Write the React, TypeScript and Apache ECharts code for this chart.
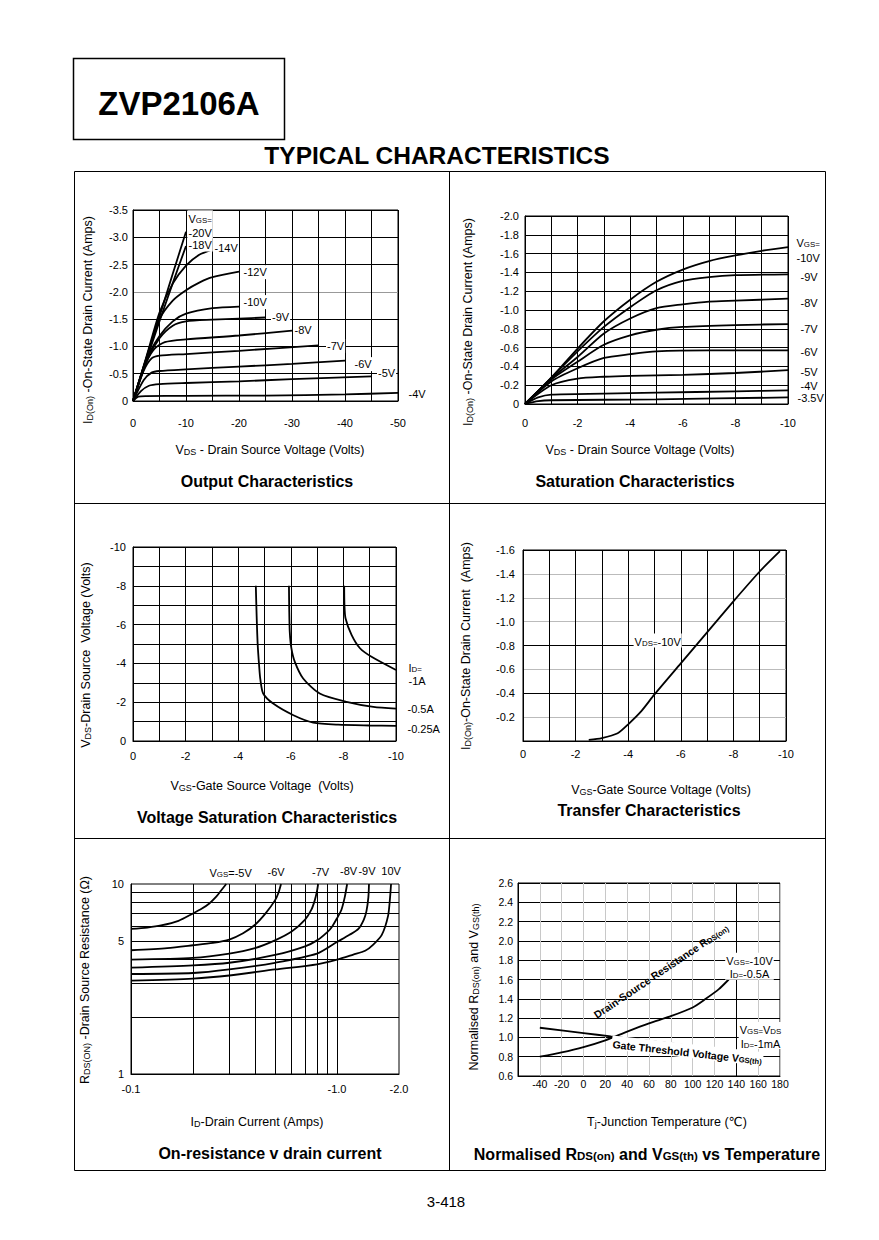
import React, { useEffect, useRef } from 'react';
import * as echarts from 'echarts';

const FONT = "'Liberation Sans', Arial, Helvetica, 'DejaVu Sans', sans-serif";

// ---------- Chart 1: Output Characteristics  [VDS (V), ID (A)] ----------
const out20V = [[0, 0], [-2.5, -0.78], [-5, -1.55], [-7.5, -2.33], [-10, -3.1]];
const out18V = [[0, 0], [-2.5, -0.74], [-5, -1.46], [-7.5, -2.16], [-10, -2.84]];
const out14V = [[0, 0], [-2.5, -0.8], [-5, -1.62], [-7.5, -2.15], [-10, -2.48], [-12.5, -2.68], [-15, -2.78]];
const out12V = [[0, 0], [-2.5, -0.78], [-5, -1.5], [-7.5, -1.84], [-10, -2.03], [-12.5, -2.17], [-15, -2.27], [-20, -2.37]];
const out10V = [[0, 0], [-2.5, -0.75], [-5, -1.19], [-7.5, -1.46], [-10, -1.6], [-15, -1.7], [-20, -1.73]];
const out9V = [[0, 0], [-2.5, -0.72], [-5, -1.15], [-7.5, -1.38], [-10, -1.46], [-15, -1.49], [-20, -1.51], [-25, -1.53]];
const out8V = [[0, 0], [-2.5, -0.7], [-4, -0.95], [-6, -1.08], [-10, -1.13], [-20, -1.2], [-30, -1.29]];
const out7V = [[0, 0], [-2, -0.55], [-3.5, -0.78], [-5, -0.83], [-10, -0.86], [-20, -0.92], [-35, -1.02]];
const out6V = [[0, 0], [-2, -0.38], [-3.5, -0.52], [-5, -0.55], [-10, -0.58], [-20, -0.63], [-30, -0.68], [-40, -0.74]];
const out5V = [[0, 0], [-1.5, -0.18], [-3, -0.28], [-5, -0.31], [-10, -0.33], [-20, -0.36], [-30, -0.4], [-45, -0.45]];
const out4V = [[0, 0], [-1, -0.08], [-2.5, -0.09], [-10, -0.095], [-25, -0.1], [-40, -0.12], [-50, -0.15]];
const outLabels = ['-20V', '-18V', '-14V', '-12V', '-10V', '-9V', '-8V', '-7V', '-6V', '-5V', '-4V'];

// ---------- Chart 2: Saturation Characteristics [VDS (V), ID (A)] ----------
const sat10V = [[0, 0], [-1, -0.28], [-2, -0.59], [-3, -0.88], [-4, -1.11], [-5, -1.3], [-6, -1.43], [-7, -1.52], [-8, -1.58], [-9, -1.63], [-10, -1.67]];
const sat9V = [[0, 0], [-1, -0.28], [-2, -0.56], [-3, -0.82], [-4, -1.03], [-5, -1.21], [-6, -1.31], [-7, -1.35], [-8, -1.37], [-10, -1.38]];
const sat8V = [[0, 0], [-1, -0.27], [-2, -0.5], [-3, -0.75], [-4, -0.91], [-5, -1.02], [-6, -1.06], [-7, -1.09], [-8, -1.1], [-10, -1.12]];
const sat7V = [[0, 0], [-1, -0.26], [-2, -0.45], [-3, -0.63], [-4, -0.73], [-5, -0.79], [-6, -0.82], [-8, -0.84], [-10, -0.85]];
const sat6V = [[0, 0], [-1, -0.24], [-2, -0.38], [-3, -0.49], [-4, -0.53], [-5, -0.56], [-7, -0.57], [-10, -0.57]];
const sat5V = [[0, 0], [-1, -0.2], [-2, -0.27], [-3, -0.29], [-4, -0.3], [-6, -0.31], [-8, -0.33], [-10, -0.36]];
const sat4V = [[0, 0], [-0.5, -0.07], [-1, -0.1], [-3, -0.11], [-5, -0.12], [-8, -0.135], [-10, -0.145]];
const sat35V = [[0, 0], [-0.5, -0.03], [-1, -0.04], [-5, -0.05], [-10, -0.07]];
const satLabels = ['-10V', '-9V', '-8V', '-7V', '-6V', '-5V', '-4V', '-3.5V'];

// ---------- Chart 3: Voltage Saturation [VGS (V), VDS (V)] ----------
const vsat1A = [[-8.03, -8], [-8.04, -7], [-8.08, -6.33], [-8.31, -5.47], [-8.63, -4.78], [-9.07, -4.34], [-10, -3.66]];
const vsat05A = [[-5.93, -8], [-5.94, -6.8], [-5.96, -5.64], [-6.02, -4.8], [-6.15, -4.09], [-6.47, -3.22], [-7.1, -2.45], [-8.12, -2.02], [-9.14, -1.76], [-10, -1.67]];
const vsat025A = [[-4.67, -8], [-4.7, -6.5], [-4.74, -5], [-4.8, -3.8], [-4.84, -3.2], [-4.95, -2.45], [-5.33, -1.93], [-6.1, -1.33], [-6.85, -0.95], [-7.8, -0.84], [-9, -0.8], [-10, -0.78]];

// ---------- Chart 4: Transfer Characteristics [VGS (V), ID (A)] ----------
const transfer = [[-2.5, -0.01], [-3, -0.025], [-3.6, -0.065], [-4, -0.14], [-4.5, -0.25], [-5, -0.39], [-6, -0.65], [-7, -0.91], [-8, -1.17], [-9, -1.42], [-9.77, -1.59]];

// ---------- Chart 5: On-resistance v drain current [ID (A), RDS (ohm)] ----------
const ron5V = [[-0.1, 5.8], [-0.12, 5.9], [-0.14, 6.05], [-0.17, 6.4], [-0.2, 7.0], [-0.22, 7.4], [-0.24, 7.9], [-0.26, 8.6], [-0.275, 9.3], [-0.29, 10]];
const ron6V = [[-0.1, 4.48], [-0.15, 4.6], [-0.2, 4.76], [-0.25, 4.9], [-0.3, 5.1], [-0.35, 5.5], [-0.4, 6.1], [-0.45, 7.0], [-0.5, 8.2], [-0.52, 9], [-0.535, 10]];
const ron7V = [[-0.1, 4.0], [-0.2, 4.08], [-0.3, 4.3], [-0.4, 4.6], [-0.5, 5.05], [-0.6, 5.6], [-0.7, 6.5], [-0.75, 7.3], [-0.78, 8.2], [-0.8, 9.2], [-0.81, 10]];
const ron8V = [[-0.1, 3.63], [-0.2, 3.73], [-0.3, 3.85], [-0.5, 4.23], [-0.7, 4.7], [-0.8, 5.05], [-0.9, 5.6], [-0.95, 6.0], [-1.0, 6.6], [-1.05, 7.3], [-1.09, 8.5], [-1.12, 10]];
const ron9V = [[-0.1, 3.36], [-0.2, 3.4], [-0.3, 3.55], [-0.5, 3.85], [-0.8, 4.3], [-1.0, 4.95], [-1.15, 5.4], [-1.27, 5.8], [-1.35, 6.5], [-1.39, 7.2], [-1.42, 8.5], [-1.43, 10]];
const ron10V = [[-0.1, 3.1], [-0.2, 3.18], [-0.3, 3.3], [-0.5, 3.55], [-0.8, 3.78], [-1.0, 4.0], [-1.2, 4.25], [-1.37, 4.45], [-1.5, 4.8], [-1.65, 5.4], [-1.77, 6.8], [-1.81, 8.5], [-1.83, 10]];
const ronLabels = ['{n|V}{s|GS}{n|=-5V}', '-6V', '-7V', '-8V', '-9V', '10V'];
const ronXGrid = [0.2, 0.3, 0.4, 0.5, 0.6, 0.7, 0.8, 0.9, 1.0];
const ronYGrid = [2, 3, 4, 5, 6, 7, 8, 9];

// ---------- Chart 6: Normalised vs temperature [Tj (C), ratio] ----------
const rdsNorm = [[-40, 0.8], [-20, 0.845], [0, 0.9], [20, 0.97], [40, 1.06], [60, 1.145], [80, 1.22], [100, 1.31], [112, 1.4], [124, 1.5], [133, 1.6]];
const vthNorm = [[-40, 1.1], [0, 1.045], [25, 1.01], [60, 0.965], [100, 0.91], [160, 0.83]];
const tempTicks = [-40, -20, 0, 20, 40, 60, 80, 100, 120, 140, 160, 180];

function rich(size: number, weight: string = 'normal') {
  const sub = Math.round(size * 0.72 * 10) / 10;
  return {
    n: { fontSize: size, fontFamily: FONT, fontWeight: weight, color: '#000', fill: '#000', verticalAlign: 'bottom' },
    s: { fontSize: sub, fontFamily: FONT, fontWeight: weight, color: '#000', fill: '#000', verticalAlign: 'bottom' },
  };
}

function gtext(x: number, y: number, text: string, size: number, opts: any = {}) {
  return {
    type: 'text', x, y, rotation: opts.rot || 0, silent: true, z: 10,
    style: {
      text, fontSize: size, fontFamily: FONT, fontWeight: opts.weight || 'normal', fill: '#000',
      align: opts.align || 'center', verticalAlign: 'middle', rich: rich(size, opts.weight || 'normal'),
    },
  };
}

function tag(coord: number[], text: string, dx: number, dy: number, opts: any = {}) {
  const size = opts.size || 11;
  return {
    coord, symbol: 'rect', symbolSize: 1, itemStyle: { color: 'rgba(0,0,0,0)' },
    label: {
      show: true, formatter: text, position: [dx, dy], align: opts.align || 'left', verticalAlign: opts.va || 'middle',
      color: '#000', fontSize: size, fontFamily: FONT, fontWeight: opts.weight || 'normal',
      backgroundColor: opts.bg === false ? 'transparent' : '#fff', padding: opts.pad || [0, 1],
      lineHeight: opts.lh || Math.round(size * 1.3), rotate: opts.rotate || 0, rich: rich(size, opts.weight || 'normal'),
    },
  };
}

function curve(idx: number, data: number[][], marks: any[] = [], extra: any = {}) {
  return {
    type: 'line', xAxisIndex: idx, yAxisIndex: idx, data, symbol: 'none', showSymbol: false,
    smooth: extra.smooth ?? 0.25, silent: true, clip: false,
    lineStyle: { color: '#000', width: 1.8 },
    markPoint: marks.length ? { silent: true, data: marks } : undefined,
    markLine: extra.markLine,
    z: 3,
  };
}

function valAxis(idx: number, min: number, max: number, interval: number, fmt: (v: number) => string, margin: number, size: number, extra: any = {}) {
  return {
    type: 'value', gridIndex: idx, min, max, interval, inverse: extra.inverse ?? false,
    axisLine: { show: true, onZero: false, lineStyle: { color: '#000', width: 1 } },
    axisTick: { show: false },
    splitLine: { show: true, lineStyle: { color: extra.splitColor || '#000', width: 1 } },
    axisLabel: { color: '#000', fontSize: size, fontFamily: FONT, margin, formatter: fmt, showMinLabel: true, showMaxLabel: true },
  };
}

function buildOption() {
  const grids = [
    { left: 133, top: 210, width: 265, height: 191 },
    { left: 525, top: 216, width: 263, height: 188 },
    { left: 133, top: 547, width: 263, height: 194 },
    { left: 523, top: 550, width: 263, height: 191 },
    { left: 131, top: 884, width: 268, height: 190 },
    { left: 518, top: 883, width: 262, height: 193 },
  ].map((g) => ({ ...g, show: true, borderColor: '#000', borderWidth: 1, containLabel: false }));

  const f1 = (v: number) => (v === 0 ? '0' : v.toFixed(1));
  const xAxis: any[] = [
    valAxis(0, -50, 0, 5, (v) => (v % 10 === 0 ? String(v) : ''), 16, 11, { inverse: true }),
    valAxis(1, -10, 0, 1, (v) => (v % 2 === 0 ? String(v) : ''), 13, 11, { inverse: true }),
    valAxis(2, -10, 0, 1, (v) => (v % 2 === 0 ? String(v) : ''), 9, 11, { inverse: true }),
    valAxis(3, -10, 0, 1, (v) => (v % 2 === 0 ? String(v) : ''), 7, 11, { inverse: true }),
    {
      type: 'log', gridIndex: 4, min: 0.1, max: 2, logBase: 10,
      axisLine: { show: true, lineStyle: { color: '#000' } }, axisTick: { show: false },
      splitLine: { show: false },
      axisLabel: { color: '#000', fontSize: 11, fontFamily: FONT, margin: 9, formatter: (v: number) => '-' + v.toFixed(1), showMinLabel: true, showMaxLabel: true },
    },
    valAxis(5, -60, 180, 20, (v) => (tempTicks.includes(v) ? String(v) : ''), 2, 10.5, { splitColor: '#c8c8c8' }),
  ];
  const yAxis: any[] = [
    valAxis(0, -3.5, 0, 0.5, f1, 5, 11, { inverse: true, splitColor: ['#000', '#000', '#000', '#999', '#000', '#000', '#000', '#000'] }),
    valAxis(1, -2, 0, 0.2, f1, 6, 11, { inverse: true }),
    valAxis(2, -10, 0, 1, (v) => (v % 2 === 0 ? String(v) : ''), 7, 11, { inverse: true }),
    valAxis(3, -1.6, 0, 0.2, (v) => (v === 0 ? '' : v.toFixed(1)), 8, 11, {
      inverse: true, splitColor: ['#000', '#bbb', '#bbb', '#bbb', '#000', '#bbb', '#000', '#bbb', '#000'],
    }),
    {
      type: 'log', gridIndex: 4, min: 1, max: 10, logBase: 10,
      axisLine: { show: true, lineStyle: { color: '#000' } }, axisTick: { show: false },
      splitLine: { show: false },
      axisLabel: { color: '#000', fontSize: 11, fontFamily: FONT, margin: 7, formatter: (v: number) => String(Math.round(v)) },
    },
    valAxis(5, 0.6, 2.6, 0.2, (v) => v.toFixed(1), 5, 10.5),
  ];

  const last = (d: number[][]) => d[d.length - 1];
  const ab = (d: number[][]) => d.map((p) => [Math.abs(p[0]), p[1]]);

  // chart 1
  const outCurves = [out20V, out18V, out14V, out12V, out10V, out9V, out8V, out7V, out6V, out5V, out4V];
  const outOff = [[2, -7], [2, -1], [1.5, -1], [4, 1], [4, -4], [6, 0], [2, 0], [8, 1], [9, 4], [6, -3], [10, 2]];
  const s1 = outCurves.map((d, i) => {
    const txt = i === 0 ? '{n|V}{s|GS=}\n{n|' + outLabels[0] + '}' : outLabels[i];
    return curve(0, d, [tag(last(d), txt, outOff[i][0], outOff[i][1], { lh: 14 })]);
  });

  // chart 2
  const satCurves = [sat10V, sat9V, sat8V, sat7V, sat6V, sat5V, sat4V, sat35V];
  const satOff = [[8, 2], [12, 3], [12, 5], [12, 5], [12, 2], [12, 2], [12, -4], [9, 1.5]];
  const s2 = satCurves.map((d, i) => {
    const txt = i === 0 ? '{n|V}{s|GS=}\n{n|' + satLabels[0] + '}' : satLabels[i];
    return curve(1, d, [tag(last(d), txt, satOff[i][0], satOff[i][1], { lh: 15 })]);
  });

  // chart 3
  const s3 = [
    curve(2, vsat1A, [tag(last(vsat1A), '{n|I}{s|D=}\n{n|-1A}', 12, 4.5, { lh: 13 })]),
    curve(2, vsat05A, [tag(last(vsat05A), '-0.5A', 11, 1)]),
    curve(2, vsat025A, [tag(last(vsat025A), '-0.25A', 11, 3.3)]),
  ];

  // chart 4
  const s4 = [curve(3, transfer, [tag([-5.14, -0.838], '{n|V}{s|DS=}{n|-10V}', 0, 0, { align: 'center' })])];

  // chart 5
  const ronCurves = [ron5V, ron6V, ron7V, ron8V, ron9V, ron10V];
  const ronOff = [[27, -12], [-4.5, -12], [3, -12], [2, -13], [-1.5, -13], [0.5, -13]];
  const gridLines5: any[] = [
    ...ronXGrid.map((v) => ({ xAxis: v })),
    ...ronYGrid.map((v) =>
      v === 5
        ? { yAxis: v, label: { show: true, position: 'start', formatter: '5', color: '#000', fontSize: 11, fontFamily: FONT, distance: 7 } }
        : { yAxis: v }
    ),
  ];
  const s5 = ronCurves.map((d, i) =>
    curve(4, ab(d), [tag(ab([last(d)])[0], ronLabels[i], ronOff[i][0], ronOff[i][1], { align: i === 0 ? 'right' : 'center', bg: false })], {
      markLine: i === 0
        ? { silent: true, symbol: ['none', 'none'], label: { show: false }, lineStyle: { color: '#000', width: 1, type: 'solid' }, data: gridLines5, z: 1 }
        : undefined,
    })
  );

  // chart 6
  const s6 = [
    curve(5, rdsNorm, [
      tag([70.8, 1.69], '{n|Drain-Source Resistance R}{s|DS(on)}', 0, 0, { align: 'center', size: 10.5, weight: 'bold', rotate: 34, bg: false }),
      tag([152.5, 1.733], '{n|V}{s|GS=}{n|-10V}\n{n|I}{s|D=}{n|-0.5A}', 0, 0, { align: 'center', lh: 13.5, pad: [0, 1] }),
    ], {
      markLine: { silent: true, symbol: ['none', 'none'], label: { show: false }, lineStyle: { color: '#000', width: 1, type: 'solid' }, data: [{ xAxis: 140 }], z: 1 },
    }),
    curve(5, vthNorm, [
      tag([95.7, 0.856], '{n|Gate Threshold Voltage V}{s|GS(th)}', 0, 0, { align: 'center', size: 10.5, weight: 'bold', rotate: -6.3 }),
      tag([162.6, 1.0145], '{n|V}{s|GS=}{n|V}{s|DS}\n{n|I}{s|D=}{n|-1mA}', 0, 0, { align: 'center', lh: 13.5 }),
    ]),
  ];

  const line = (x1: number, y1: number, x2: number, y2: number, w = 1) => ({
    type: 'line', silent: true, z: 10, shape: { x1, y1, x2, y2 }, style: { stroke: '#000', lineWidth: w },
  });

  const T = 16;
  const graphic: any[] = [
    { type: 'rect', silent: true, z: 10, shape: { x: 73.5, y: 58.5, width: 211, height: 81 }, style: { fill: 'none', stroke: '#000', lineWidth: 1.5 } },
    gtext(179, 103, 'ZVP2106A', 33, { weight: 'bold' }),
    gtext(437, 155, 'TYPICAL CHARACTERISTICS', 24.5, { weight: 'bold' }),
    { type: 'rect', silent: true, z: 10, shape: { x: 74.5, y: 171.5, width: 751, height: 999 }, style: { fill: 'none', stroke: '#000', lineWidth: 1 } },
    line(449.5, 171, 449.5, 1171),
    line(74, 503.5, 826, 503.5),
    line(74, 838.5, 826, 838.5),
    gtext(446, 1201, '3-418', 15),
    // titles
    gtext(267, 481, 'Output Characteristics', T, { weight: 'bold' }),
    gtext(635, 481, 'Saturation Characteristics', T, { weight: 'bold' }),
    gtext(267, 817, 'Voltage Saturation Characteristics', T, { weight: 'bold' }),
    gtext(649, 810, 'Transfer Characteristics', T, { weight: 'bold' }),
    gtext(270, 1153, 'On-resistance v drain current', T, { weight: 'bold' }),
    gtext(647, 1154, '{n|Normalised R}{s|DS(on)}{n| and V}{s|GS(th)}{n| vs Temperature}', T, { weight: 'bold' }),
    // x axis names
    gtext(270, 450, '{n|V}{s|DS}{n| - Drain Source Voltage (Volts)}', 12.5),
    gtext(640, 450, '{n|V}{s|DS}{n| - Drain Source Voltage (Volts)}', 12.5),
    gtext(262, 786, '{n|V}{s|GS}{n|-Gate Source Voltage  (Volts)}', 12.5),
    gtext(661, 790, '{n|V}{s|GS}{n|-Gate Source Voltage (Volts)}', 12.5),
    gtext(257, 1122, '{n|I}{s|D}{n|-Drain Current (Amps)}', 12.5),
    gtext(667, 1122, '{n|T}{s|j}{n|-Junction Temperature (\u2103)}', 12.5),
    // y axis names
    gtext(88, 320, '{n|I}{s|D(On)}{n| -On-State Drain Current (Amps)}', 12.5, { rot: Math.PI / 2 }),
    gtext(468, 322, '{n|I}{s|D(On)}{n| -On-State Drain Current (Amps)}', 12.5, { rot: Math.PI / 2 }),
    gtext(86, 655, '{n|V}{s|DS}{n|-Drain Source  Voltage (Volts)}', 12.5, { rot: Math.PI / 2 }),
    gtext(466, 646, '{n|I}{s|D(On)}{n|-On-State Drain Current  (Amps)}', 12.5, { rot: Math.PI / 2 }),
    gtext(85, 980, '{n|R}{s|DS(ON)}{n| -Drain Source Resistance (\u03A9)}', 12.5, { rot: Math.PI / 2 }),
    gtext(474, 987, '{n|Normalised R}{s|DS(on)}{n| and V}{s|GS(th)}', 12.5, { rot: Math.PI / 2 }),
  ];

  return {
    animation: false,
    backgroundColor: '#fff',
    textStyle: { fontFamily: FONT, color: '#000' },
    grid: grids,
    xAxis,
    yAxis,
    series: [...s1, ...s2, ...s3, ...s4, ...s5, ...s6],
    graphic: { elements: graphic },
  };
}

export default function App() {
  const ref = useRef<HTMLDivElement>(null);
  useEffect(() => {
    if (!ref.current) return;
    const chart = echarts.init(ref.current, null, { renderer: 'svg', width: 879, height: 1240 });
    chart.setOption(buildOption() as any);
    return () => chart.dispose();
  }, []);
  return <div ref={ref} style={{ position: 'absolute', left: 0, top: 0, width: 879, height: 1240, background: '#fff' }} />;
}
